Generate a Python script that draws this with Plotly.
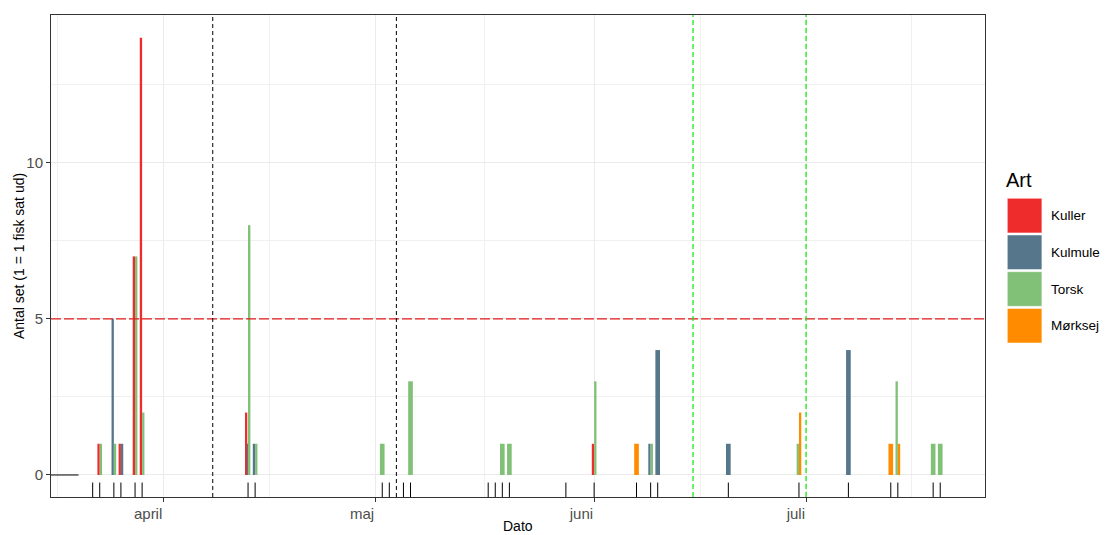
import plotly.graph_objects as go

# ---------------- data ----------------
species = ["Kuller", "Kulmule", "Torsk", "Mørksej"]
species_colors = ["#EE2C2C", "#56778B", "#80C077", "#FF8C00"]

kuller_dates = ["2023-03-23", "2023-03-26", "2023-03-28", "2023-03-29", "2023-04-13", "2023-06-01"]
kuller_values = [1, 1, 7, 14, 2, 1]

kulmule_dates = ["2023-03-25", "2023-03-26", "2023-04-13", "2023-04-14", "2023-06-09",
                 "2023-06-10", "2023-06-20", "2023-07-07"]
kulmule_values = [5, 1, 1, 1, 1, 4, 1, 4]

torsk_dates = ["2023-03-23", "2023-03-25", "2023-03-28", "2023-03-29", "2023-04-13", "2023-04-14",
               "2023-05-02", "2023-05-06", "2023-05-19", "2023-05-20", "2023-06-01", "2023-06-09",
               "2023-06-30", "2023-07-14", "2023-07-19", "2023-07-20"]
torsk_values = [1, 1, 7, 2, 8, 1, 1, 3, 1, 1, 3, 1, 1, 3, 1, 1]

morksej_dates = ["2023-06-07", "2023-06-30", "2023-07-13", "2023-07-14"]
morksej_values = [1, 2, 1, 1]

rug_dates = ["2023-03-22", "2023-03-23", "2023-03-25", "2023-03-26", "2023-03-28", "2023-03-29",
             "2023-04-13", "2023-04-14", "2023-05-02", "2023-05-03", "2023-05-05", "2023-05-06",
             "2023-05-17", "2023-05-18", "2023-05-19", "2023-05-20", "2023-05-28", "2023-06-01",
             "2023-06-07", "2023-06-09", "2023-06-10", "2023-06-20", "2023-06-30", "2023-07-07",
             "2023-07-13", "2023-07-14", "2023-07-19", "2023-07-20"]

zero_line_dates = ["2023-03-10", "2023-03-20"]
zero_line_values = [0, 0]

black_vlines = ["2023-04-08", "2023-05-04"]
green_vlines = ["2023-06-15", "2023-07-01"]
threshold = 5

month_ticks = ["2023-04-01", "2023-05-01", "2023-06-01", "2023-07-01"]
month_labels = ["april", "maj", "juni", "juli"]
minor_x = ["2023-03-17", "2023-04-16", "2023-05-16 12:00", "2023-06-16", "2023-07-16"]
y_ticks = [0, 5, 10]
y_minor = [2.5, 7.5, 12.5]

x_range = ["2023-03-16 02:24", "2023-07-26 08:10"]
y_range = [-0.705, 14.73]

series = {
    "Kuller": (kuller_dates, kuller_values),
    "Kulmule": (kulmule_dates, kulmule_values),
    "Torsk": (torsk_dates, torsk_values),
    "Mørksej": (morksej_dates, morksej_values),
}

# ---------------- dodge computation ----------------
DAY_MS = 86400000
group_width = 0.66 * DAY_MS
present = {}
for sp in species:
    for d in series[sp][0]:
        present.setdefault(d, []).append(sp)

fig = go.Figure()

for sp, col in zip(species, species_colors):
    dates, vals = series[sp]
    offsets, widths = [], []
    for d in dates:
        grp = present[d]
        n = len(grp)
        w = group_width / n
        i = grp.index(sp)
        offsets.append(-group_width / 2 + i * w)
        widths.append(w)
    fig.add_trace(go.Bar(
        x=dates, y=vals, name=sp, marker=dict(color=col, line=dict(width=0)),
        offset=offsets, width=widths, showlegend=False,
    ))

fig.add_trace(go.Scatter(x=zero_line_dates, y=zero_line_values, mode="lines",
                         line=dict(color="black", width=1), showlegend=False, hoverinfo="skip"))

shapes = []
for d in rug_dates:
    shapes.append(dict(type="line", xref="x", yref="paper", x0=d, x1=d, y0=0, y1=0.03,
                       line=dict(color="black", width=1)))
shapes.append(dict(type="line", xref="paper", yref="y", x0=0, x1=1, y0=threshold, y1=threshold,
                   line=dict(color="#E41A1C", width=1.2, dash="10px,3px")))
for d in black_vlines:
    shapes.append(dict(type="line", xref="x", yref="paper", x0=d, x1=d, y0=0, y1=1,
                       line=dict(color="black", width=1, dash="4px,3px")))
for d in green_vlines:
    shapes.append(dict(type="line", xref="x", yref="paper", x0=d, x1=d, y0=0, y1=1,
                       line=dict(color="#00EE00", width=1.2, dash="5px,3px")))

# ---------------- layout geometry ----------------
# the page body adds an 8px offset; reference pixel coords are converted accordingly
OFF = 8
W, H = 1109 - OFF, 535 - OFF
panel_l, panel_r, panel_t, panel_b = 51, 985, 15, 497
ml, mr, mt = panel_l - OFF, 1109 - panel_r, panel_t - OFF
mb = H - mt - (panel_b - panel_t)
pw, ph = panel_r - panel_l, panel_b - panel_t


def px_x(p):
    return (p - panel_l) / pw


def px_y(p):
    return (panel_b - p) / ph


annotations = []
key_top, key_size, key_step = 198.3, 34.6, 36.7
key_left = 1007.3
for i, (sp, col) in enumerate(zip(species, species_colors)):
    t = key_top + i * key_step
    shapes.append(dict(type="rect", xref="paper", yref="paper",
                       x0=px_x(key_left), x1=px_x(key_left + key_size),
                       y0=px_y(t + key_size), y1=px_y(t),
                       fillcolor=col, line=dict(color="white", width=0.5), layer="above"))
    annotations.append(dict(text=sp, xref="paper", yref="paper", x=px_x(1049), y=px_y(t + key_size / 2),
                            xanchor="left", yanchor="middle", showarrow=False,
                            font=dict(size=13.5, color="black")))
annotations.append(dict(text="Art", xref="paper", yref="paper", x=px_x(1004), y=px_y(180),
                        xanchor="left", yanchor="middle", showarrow=False,
                        font=dict(size=20, color="black")))
annotations.append(dict(text="Dato", xref="paper", yref="paper", x=0.5, y=px_y(526),
                        xanchor="center", yanchor="middle", showarrow=False,
                        font=dict(size=14, color="black")))
annotations.append(dict(text="Antal set (1 = 1 fisk sat ud)", xref="paper", yref="paper",
                        x=px_x(19), y=0.5, xanchor="center", yanchor="middle", textangle=-90,
                        showarrow=False, font=dict(size=14, color="black")))

fig.update_layout(
    width=W, height=H,
    margin=dict(l=ml, r=mr, t=mt, b=mb),
    paper_bgcolor="white", plot_bgcolor="white",
    barmode="overlay",
    font=dict(family="Arial, Liberation Sans, sans-serif"),
    shapes=shapes, annotations=annotations,
    showlegend=False,
    xaxis=dict(
        type="date", range=x_range, tickvals=month_ticks, ticktext=month_labels,
        ticks="outside", ticklen=4, tickcolor="#333333", tickwidth=1,
        tickfont=dict(size=15, color="#4D4D4D"), ticklabelposition="outside left",
        ticklabelstandoff=3,
        showgrid=True, gridcolor="#EBEBEB", gridwidth=1,
        minor=dict(tickvals=minor_x, showgrid=True, gridcolor="#F0F0F0", gridwidth=0.6, ticks=""),
        showline=True, mirror=True, linecolor="#333333", linewidth=1, zeroline=False,
    ),
    yaxis=dict(
        range=y_range, tickvals=y_ticks, ticktext=[str(v) for v in y_ticks],
        ticks="outside", ticklen=4, tickcolor="#333333", tickwidth=1,
        tickfont=dict(size=15, color="#4D4D4D"),
        showgrid=True, gridcolor="#EBEBEB", gridwidth=1,
        minor=dict(tickvals=y_minor, showgrid=True, gridcolor="#F0F0F0", gridwidth=0.6, ticks=""),
        showline=True, mirror=True, linecolor="#333333", linewidth=1, zeroline=False,
    ),
)

fig.write_html("out.html")
